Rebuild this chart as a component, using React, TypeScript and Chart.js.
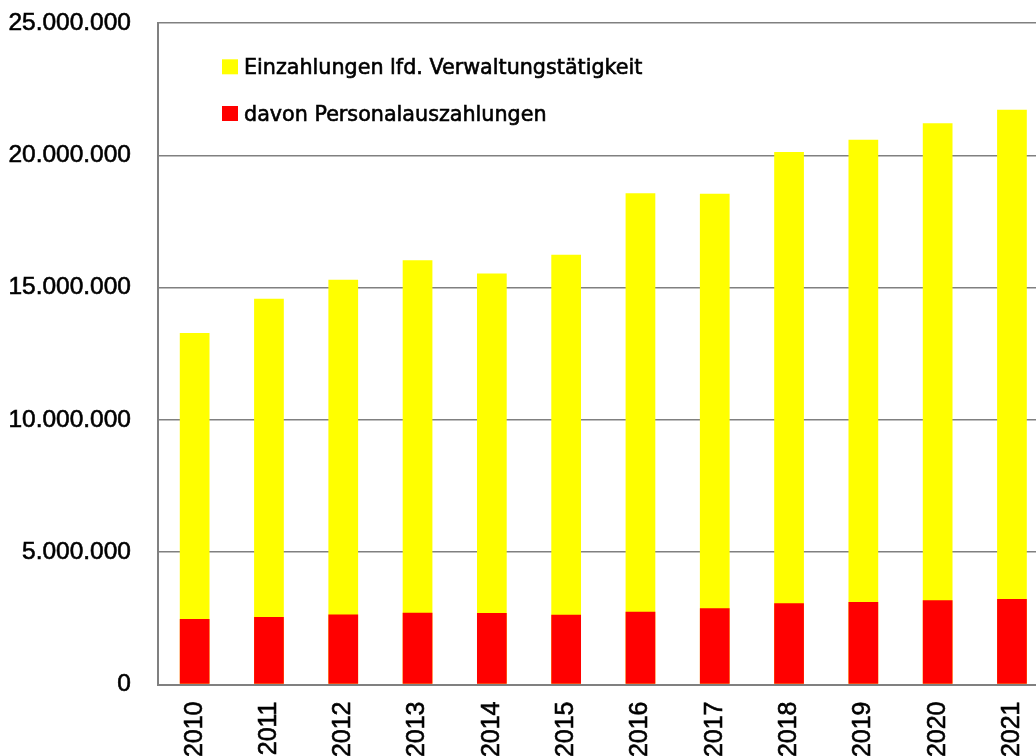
import React, { useEffect, useRef } from "react";
import { Chart, registerables } from "chart.js";

Chart.register(...registerables);

const years = ["2010", "2011", "2012", "2013", "2014", "2015", "2016", "2017", "2018", "2019", "2020", "2021"];
const einzahlungen = [13280000, 14580000, 15300000, 16030000, 15530000, 16240000, 18570000, 18550000, 20120000, 20590000, 21210000, 21720000];
const personal = [2480000, 2550000, 2650000, 2710000, 2700000, 2640000, 2750000, 2880000, 3070000, 3120000, 3180000, 3230000];
const seriesNames = ["Einzahlungen lfd. Verwaltungstätigkeit", "davon Personalauszahlungen"];
const seriesColors = ["#FFFF00", "#FF0000"];
const yMax = 25000000;
const yStep = 5000000;

function fmt(v: number): string {
  return Math.round(v).toString().replace(/\B(?=(\d{3})+(?!\d))/g, ".");
}

const legendPlugin = {
  id: "insideLegend",
  afterDraw(chart: any) {
    const ctx = chart.ctx;
    ctx.save();
    ctx.font = '20.7px "DejaVu Sans"';
    ctx.textBaseline = "alphabetic";
    ctx.textAlign = "left";
    const rows = [
      { y: 74.3, name: seriesNames[0], color: seriesColors[0] },
      { y: 121, name: seriesNames[1], color: seriesColors[1] },
    ];
    rows.forEach((r) => {
      ctx.fillStyle = r.color;
      ctx.fillRect(222, r.y - 15, 16, 15);
      ctx.fillStyle = "#000000";
      ctx.strokeStyle = "#000000";
      ctx.lineWidth = 0.6;
      ctx.fillText(r.name, 244, r.y);
      ctx.strokeText(r.name, 244, r.y);
    });
    ctx.restore();
  },
};

export default function App() {
  const ref = useRef<HTMLCanvasElement | null>(null);
  useEffect(() => {
    if (!ref.current) return;
    const chart = new Chart(ref.current, {
      type: "bar",
      data: {
        labels: years,
        datasets: [
          {
            label: seriesNames[0],
            data: einzahlungen,
            backgroundColor: seriesColors[0],
            order: 2,
            barPercentage: 0.4,
            categoryPercentage: 1,
          },
          {
            label: seriesNames[1],
            data: personal,
            backgroundColor: seriesColors[1],
            order: 1,
            barPercentage: 0.4,
            categoryPercentage: 1,
          },
        ],
      },
      options: {
        animation: false,
        responsive: false,
        maintainAspectRatio: false,
        layout: { padding: { top: 23, right: 30.9, left: 0, bottom: 0 } },
        plugins: {
          legend: { display: false },
          tooltip: { enabled: false },
          title: { display: false },
        },
        scales: {
          x: {
            stacked: true,
            grid: { display: false, drawTicks: false },
            border: { display: true, color: "#808080", width: 2 },
            ticks: {
              minRotation: 90,
              maxRotation: 90,
              autoSkip: false,
              padding: 17,
              color: "#000000",
              textStrokeColor: "#000000",
              textStrokeWidth: 0.6,
              font: { family: '"Liberation Sans"', size: 25 },
            },
            afterFit: (s: any) => {
              s.height = 71.5;
            },
          },
          y: {
            stacked: false,
            min: 0,
            max: yMax,
            ticks: {
              stepSize: yStep,
              padding: 26.5,
              color: "#000000",
              textStrokeColor: "#000000",
              textStrokeWidth: 0.6,
              font: { family: '"Liberation Sans"', size: 24.5 },
              callback: (v: any) => fmt(Number(v)),
            },
            grid: { color: "#808080", lineWidth: 1.5, drawTicks: false },
            border: { display: true, color: "#808080", width: 2 },
            afterFit: (s: any) => {
              s.width = 157.5;
              s.paddingTop = 0;
              s.paddingBottom = 0;
            },
          },
        },
      },
      plugins: [legendPlugin],
    });
    return () => chart.destroy();
  }, []);
  return (
    <div style={{ position: "fixed", left: 0, top: 0, width: 1036, height: 756, overflow: "hidden", background: "#ffffff" }}>
      <canvas ref={ref} width={1080} height={756} style={{ width: 1080, height: 756, display: "block" }} />
    </div>
  );
}
